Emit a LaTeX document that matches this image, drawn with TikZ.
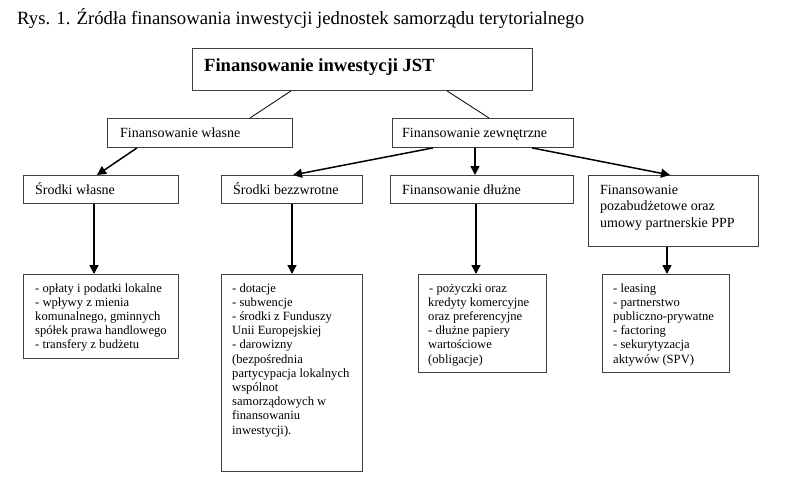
\documentclass[tikz,border=0pt]{standalone}
\usepackage{fontspec}
\setmainfont{Liberation Serif}
\usetikzlibrary{arrows.meta,calc}
\tikzset{
  box/.style={draw=black!75, line width=0.9pt, inner sep=0pt, anchor=north west},
  txt/.style={anchor=base west, inner sep=0pt},
  arr/.style={line width=1.5pt, -{Triangle[length=9pt,width=9pt]}},
  thin/.style={line width=0.8pt}
}
\newcommand{\hdr}{\fontsize{14}{16.5}\selectfont}
\newcommand{\lst}{\fontsize{12.6}{14.2}\selectfont}
\begin{document}
\begin{tikzpicture}[x=1pt,y=-1pt]
\fill[white] (0,0) rectangle (793,503);
\useasboundingbox (0,0) rectangle (793,503);

\node[txt] (title) at (17,25) {\fontsize{18.7}{21}\selectfont Rys. 1. Źródła finansowania inwestycji jednostek samorządu terytorialnego};

% top
\node[box, minimum width=340pt, minimum height=42pt] (top) at (192,48) {};
\node[txt] (topt) at (204,72) {\fontsize{18.6}{21}\selectfont\bfseries Finansowanie inwestycji JST};

% level 2
\node[box, minimum width=185pt, minimum height=29pt] (fw) at (107,118) {};
\node[txt] (fwt) at (120,137) {\hdr Finansowanie własne};
\node[box, minimum width=181pt, minimum height=29pt] (fz) at (392,118) {};
\node[txt] (fzt) at (402,137) {\hdr Finansowanie zewnętrzne};

% level 3
\node[box, minimum width=155pt, minimum height=28pt] (sw) at (23,175) {};
\node[txt] (swt) at (35,194) {\hdr Środki własne};
\node[box, minimum width=141pt, minimum height=28pt] (sb) at (221,175) {};
\node[txt] (sbt) at (233,194) {\hdr Środki bezzwrotne};
\node[box, minimum width=183pt, minimum height=28pt] (fd) at (390,175) {};
\node[txt] (fdt) at (402,194) {\hdr Finansowanie dłużne};
\node[box, minimum width=170pt, minimum height=71pt] (fp) at (588,175) {};
\node[txt] (fpt) at (600,194) {\parbox[t]{150pt}{\hdr\raggedright Finansowanie\\ pozabudżetowe oraz\\ umowy partnerskie PPP}};

% level 4
\node[box, minimum width=155pt, minimum height=84pt] (l1) at (23,274) {};
\node[txt] (l1t) at (35,292) {\parbox[t]{150pt}{\lst\raggedright - opłaty i podatki lokalne\\ - wpływy z mienia\\ komunalnego, gminnych\\ spółek prawa handlowego\\ - transfery z budżetu}};
\node[box, minimum width=141pt, minimum height=197pt] (l2) at (221,274) {};
\node[txt] (l2t) at (232,292) {\parbox[t]{150pt}{\lst\raggedright - dotacje\\ - subwencje\\ - środki z Funduszy\\ Unii Europejskiej\\ - darowizny\\ (bezpośrednia\\ partycypacja lokalnych\\ wspólnot\\ samorządowych w\\ finansowaniu\\ inwestycji).}};
\node[box, minimum width=128pt, minimum height=98pt] (l3) at (418,274) {};
\node[txt] (l3t) at (428,292) {\parbox[t]{150pt}{\lst\raggedright \hspace*{1pt}- pożyczki oraz\\ kredyty komercyjne\\ oraz preferencyjne\\ - dłużne papiery\\ wartościowe\\ (obligacje)}};
\node[box, minimum width=127pt, minimum height=98pt] (l4) at (602,274) {};
\node[txt] (l4t) at (613,292) {\parbox[t]{150pt}{\lst\raggedright - leasing\\ - partnerstwo\\ publiczno-prywatne\\ - factoring\\ - sekurytyzacja\\ aktywów (SPV)}};

% connectors
\draw[thin] ($(top.south west)+(99,0)$) -- ($(fw.north west)+(143,0)$);
\draw[thin] ($(top.south west)+(255,0)$) -- ($(fz.north west)+(97,0)$);

\draw[arr] ($(fw.south west)+(30,0)$) -- ($(sw.north west)+(74,0)$);
\draw[arr] ($(fz.south west)+(41,0)$) -- ($(sb.north west)+(72,0)$);
\draw[arr] ($(fz.south west)+(83,0)$) -- ($(fd.north west)+(85,0)$);
\draw[arr] ($(fz.south west)+(140,0)$) -- ($(fp.north west)+(82,0)$);

\draw[arr] ($(sw.south west)+(71,0)$) -- ($(l1.north west)+(71,0)$);
\draw[arr] ($(sb.south west)+(71,0)$) -- ($(l2.north west)+(71,0)$);
\draw[arr] ($(fd.south west)+(86,0)$) -- ($(l3.north west)+(58,0)$);
\draw[arr] ($(fp.south west)+(79,0)$) -- ($(l4.north west)+(65,0)$);
\end{tikzpicture}
\end{document}
